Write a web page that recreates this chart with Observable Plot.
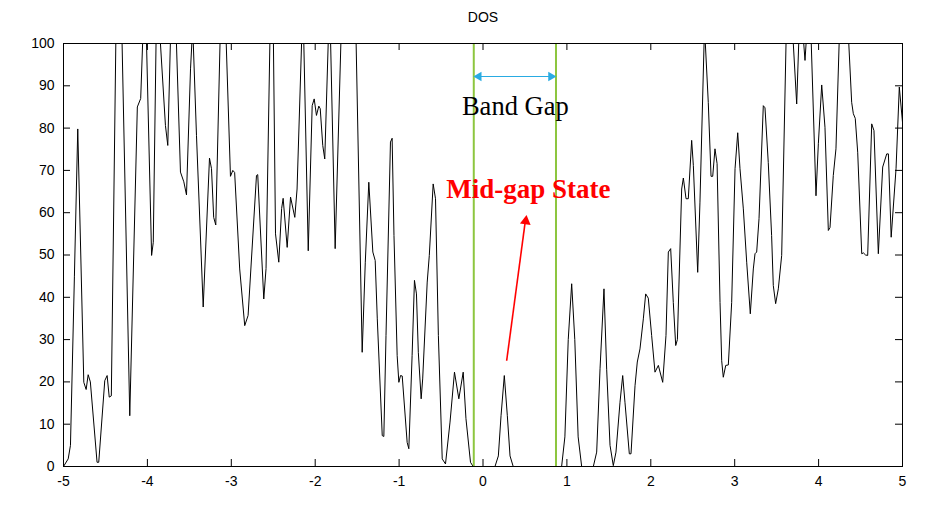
<!DOCTYPE html>
<html>
<head>
<meta charset="utf-8">
<script src="https://cdn.jsdelivr.net/npm/d3@7"></script>
<script src="https://cdn.jsdelivr.net/npm/@observablehq/plot@0.6"></script>
<style>
  body { margin: 0; background: #fff; }
</style>
</head>
<body>
<div id="chart"></div>
<script>
// Energy (eV) and density of states
const energy = [
  -5.00,-4.944,-4.917,-4.87,-4.83,-4.758,-4.73,-4.706,-4.68,-4.60,-4.58,-4.508,-4.48,-4.455,-4.43,
  -4.37,-4.31,-4.21,-4.12,-4.08,-4.05,-4.02,-3.95,-3.93,-3.89,-3.86,-3.785,-3.757,-3.72,-3.66,
  -3.606,-3.566,-3.534,-3.486,-3.46,-3.415,-3.335,-3.26,-3.236,-3.21,-3.185,-3.125,-3.07,-3.01,
  -2.982,-2.96,-2.90,-2.84,-2.80,-2.70,-2.685,-2.613,-2.586,-2.53,-2.50,-2.473,-2.434,-2.40,
  -2.382,-2.334,-2.294,-2.243,-2.216,-2.15,-2.14,-2.083,-2.036,-2.012,-1.985,-1.957,-1.94,-1.91,
  -1.886,-1.83,-1.825,-1.762,-1.68,-1.60,-1.52,-1.44,-1.403,-1.361,-1.313,-1.285,-1.26,-1.201,
  -1.182,-1.156,-1.103,-1.083,-1.061,-1.023,-1.003,-0.983,-0.963,-0.904,-0.884,-0.845,-0.817,
  -0.793,-0.771,-0.737,-0.719,-0.665,-0.640,-0.594,-0.566,-0.532,-0.486,-0.447,-0.393,-0.34,
  -0.288,-0.236,-0.203,-0.149,-0.117,0.143,0.183,0.215,0.254,0.29,0.322,0.36,0.937,0.976,1.016,
  1.057,1.094,1.134,1.176,1.315,1.355,1.395,1.442,1.474,1.514,1.553,1.585,1.633,1.665,1.692,
  1.744,1.764,1.812,1.839,1.871,1.911,1.939,1.97,2.01,2.05,2.09,2.142,2.181,2.209,2.237,2.268,
  2.297,2.317,2.368,2.388,2.42,2.447,2.487,2.507,2.559,2.586,2.64,2.685,2.718,2.738,2.765,2.79,
  2.825,2.845,2.864,2.893,2.924,2.964,3.004,3.036,3.063,3.103,3.143,3.186,3.222,3.242,3.262,
  3.29,3.341,3.361,3.40,3.44,3.46,3.488,3.52,3.56,3.62,3.67,3.739,3.78,3.80,3.838,3.87,3.90,
  3.969,3.997,4.037,4.076,4.116,4.136,4.175,4.207,4.26,4.30,4.35,4.394,4.414,4.437,4.466,4.514,
  4.534,4.56,4.585,4.633,4.66,4.712,4.764,4.812,4.832,4.865,4.923,4.962,5.0
];
const dos = [
  0,1.8,5,45,79.8,19.9,18.2,21.7,20,1,1,20.3,21.5,16.4,16.7,
  110,108,12,85,87,104,108,49.9,53,110,105,80.6,75.9,105,104,
  69.6,67.3,64.2,94,104,78.3,37.7,72.9,70.4,58.9,57.1,108,106,68.6,
  70,69.5,46.7,33.3,35.7,68.8,69,39.6,46.8,112,104,55,48.3,61,
  63.4,51.8,63.7,58.9,65.6,108,104,51,85.3,86.9,83,85.2,84.6,75.9,
  72.7,110,108,51.5,110,130,108,27,48.3,67.2,50.7,48.7,34.9,7.3,
  7.1,31,76.7,77.6,54.6,26.2,19.9,21.5,21.4,5.7,4.2,26.2,44,
  40.8,27,16,20.7,43.6,49.9,66.8,63.3,31,1.8,0.6,10.5,22.3,
  16,22.3,11.3,1,0,0,2.5,12,21.5,12,2.5,0,0,7,30,
  43.2,30,7,0,0,3.4,23.1,42,23,5,0.2,3.4,15.2,21.5,15.2,
  3,3,19.1,24.7,27.8,34.9,40.8,39.8,31,22.3,23.9,19.9,31,50.7,51.5,38.8,
  28.6,30,65.6,68.2,63.3,63.3,77.1,71.2,45.9,62.5,104,86.1,68.6,68.6,75.1,71.6,
  38.8,25,21.1,23.9,24,38.8,70.4,78.9,70.4,60.9,48.3,36.1,46.7,50.3,50.7,
  58.6,85.3,84.8,71.9,54.6,42.8,38.5,42,49.9,108,110,85.7,110,106,96,106,108,
  64,76.3,90.2,80.2,55.8,56.5,68.8,75.1,110,125,104,86.1,83.4,82.3,74.3,50.3,
  50.5,50,49.9,81,79.4,50.3,70.8,73.9,73.9,54.2,70.4,89.7,81.4
];
const xTicks = [-5,-4,-3,-2,-1,0,1,2,3,4,5];
const yTicks = [0,10,20,30,40,50,60,70,80,90,100];
const gapEdges = [-0.11, 0.87];
const gapArrowY = 92.2;
const bandGapLabel = {x: 0.385, y: 85.2, text: "Band Gap"};
const midGapLabel = {x: 0.54, y: 65.4, text: "Mid-gap State"};
const midGapArrow = {x1: 0.282, y1: 25.0, x2: 0.509, y2: 58.7};

const data = energy.map((x, i) => ({x, y: dos[i]}));

const W = 931, H = 511, mL = 63, mR = 29, mT = 43, mB = 45;
const fw = W - mL - mR, fh = H - mT - mB, tk = 7;
const serif = "'Liberation Serif', 'Times New Roman', serif";

const chart = Plot.plot({
  width: W, height: H,
  marginLeft: mL, marginRight: mR, marginTop: mT, marginBottom: mB,
  style: {fontFamily: "'Liberation Sans', Arial, sans-serif", fontSize: "14px", background: "white", color: "black"},
  x: {domain: [-5, 5]},
  y: {domain: [0, 100]},
  marks: [
    Plot.axisX(xTicks, {tickSize: 0, tickPadding: 10, tickFormat: d => String(d), label: null, fontSize: 14}),
    Plot.axisY(yTicks, {tickSize: 0, tickPadding: 9, tickFormat: d => String(d), label: null, fontSize: 14}),
    // inward ticks on all four sides
    Plot.ruleX(xTicks, {x: d => d, insetTop: fh - tk, stroke: "black"}),
    Plot.ruleX(xTicks, {x: d => d, insetBottom: fh - tk, stroke: "black"}),
    Plot.ruleY(yTicks, {y: d => d, insetRight: fw - tk, stroke: "black"}),
    Plot.ruleY(yTicks, {y: d => d, insetLeft: fw - tk, stroke: "black"}),
    Plot.line(data, {x: "x", y: "y", stroke: "black", strokeWidth: 1, clip: true}),
    Plot.ruleX(gapEdges, {x: d => d, stroke: "#8dc63f", strokeWidth: 2}),
    Plot.ruleY([gapArrowY], {y: d => d, x1: gapEdges[0], x2: gapEdges[1], stroke: "#29abe2", strokeWidth: 1.2, insetLeft: 5, insetRight: 5}),
    Plot.dot([gapEdges[0]], {x: d => d, y: () => gapArrowY, symbol: "triangle", r: 3.5, rotate: -90, dx: 5,
      fill: "#29abe2", stroke: "none"}),
    Plot.dot([gapEdges[1]], {x: d => d, y: () => gapArrowY, symbol: "triangle", r: 3.5, rotate: 90, dx: -5,
      fill: "#29abe2", stroke: "none"}),
    Plot.text([bandGapLabel], {x: "x", y: "y", text: "text", fontFamily: serif, fontSize: 26.5, fill: "black"}),
    Plot.text([midGapLabel], {x: "x", y: "y", text: "text", fontFamily: serif, fontSize: 27, fontWeight: "bold", fill: "#ff0000"}),
    Plot.link([midGapArrow], {x1: "x1", y1: "y1", x2: "x2", y2: "y2", stroke: "#ff0000", strokeWidth: 1.6}),
    Plot.dot([midGapArrow], {x: "x2", y: "y2", symbol: "triangle", r: 4, rotate: 7.6, fill: "#ff0000", stroke: "none", dy: 3}),
    Plot.text(["DOS"], {frameAnchor: "top", lineAnchor: "middle", dy: -26, text: d => d, fontSize: 14, fill: "black"}),
    Plot.frame({stroke: "black", strokeWidth: 1})
  ]
});
document.getElementById("chart").appendChild(chart);
</script>
</body>
</html>
